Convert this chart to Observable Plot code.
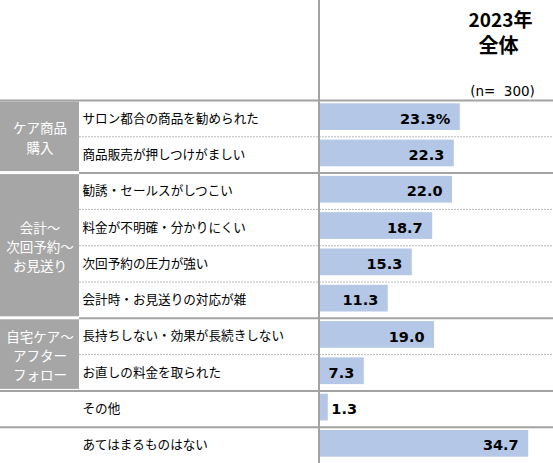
<!DOCTYPE html>
<html>
<head>
<meta charset="utf-8">
<script src="https://cdn.jsdelivr.net/npm/d3@7"></script>
<script src="https://cdn.jsdelivr.net/npm/@observablehq/plot@0.6"></script>
<style>
  html, body { margin: 0; padding: 0; background: #fff; }
  #chart svg { display: block; }
</style>
</head>
<body>
<div id="chart"></div>
<script>
// ---- data ----
const rowLabels = [
  "サロン都合の商品を勧められた",
  "商品販売が押しつけがましい",
  "勧誘・セールスがしつこい",
  "料金が不明確・分かりにくい",
  "次回予約の圧力が強い",
  "会計時・お見送りの対応が雑",
  "長持ちしない・効果が長続きしない",
  "お直しの料金を取られた",
  "その他",
  "あてはまるものはない"
];
const values = [23.3, 22.3, 22.0, 18.7, 15.3, 11.3, 19.0, 7.3, 1.3, 34.7];
const groupNames = ["ケア商品\n購入", "会計～\n次回予約～\nお見送り", "自宅ケア～\nアフター\nフォロー"];
const groupStarts = [0, 2, 6];
const groupEnds = [2, 6, 8];
const headerLines = ["2023年", "全体", "(n=\u00a0 300)"];
const solidBoundaries = [2, 6, 8, 9];
const dashedBoundaries = [1, 3, 4, 5, 7];

// ---- layout ----
const W = 553, H = 463, TOP = 100;
const ORIGIN = 320, PXU = 6;          // pixel of value 0, pixels per unit
const px = p => (p - ORIGIN) / PXU;   // pixel -> x value
const nRows = rowLabels.length;
const rowH = (H - TOP) / nRows;
const GRAY_W = 79;
const lineColor = "#a3a3a3";

const rows = rowLabels.map((label, i) => ({label, value: values[i], i}));
const groups = groupNames.map((name, k) => ({name, y1: groupStarts[k], y2: groupEnds[k]}));
const fmt = d => d.i === 0 ? d.value.toFixed(1) + "%" : d.value.toFixed(1);

const jp = "'Noto Sans CJK JP', sans-serif";
const num = "'DejaVu Sans', sans-serif";

const chart = Plot.plot({
  width: W, height: H,
  marginTop: TOP, marginBottom: 0, marginLeft: 0, marginRight: 0,
  x: {domain: [px(0), px(W)], axis: null},
  y: {domain: [0, nRows], reverse: true, axis: null},
  style: {fontFamily: jp, background: "#fff", overflow: "visible"},
  marks: [
    // gray group cells
    Plot.rect(groups, {x1: px(0), x2: px(GRAY_W), y1: "y1", y2: "y2", fill: "#a6a6a6", insetTop: 1.5, insetBottom: 1.5}),
    Plot.text(groups, {x: px(GRAY_W / 2), y: d => (d.y1 + d.y2) / 2, text: "name", fill: "#fff",
      fontSize: 13.5, lineHeight: 1.42, textAnchor: "middle", fontFamily: jp}),
    // grid lines
    Plot.ruleY([0], {stroke: lineColor, strokeWidth: 2}),
    Plot.ruleY(solidBoundaries, {x1: d => d <= 6 ? px(GRAY_W) : px(0), x2: px(W), stroke: lineColor, strokeWidth: 2}),
    Plot.ruleY(dashedBoundaries, {x1: px(GRAY_W), x2: px(W), stroke: "#b8b8b8", strokeWidth: 1, strokeDasharray: "2,1"}),
    // bars
    Plot.rect(rows, {x1: 0, x2: "value", y1: "i", y2: d => d.i + 1, fill: "#b4c7e7", insetTop: 3.3, insetBottom: 6.3}),
    // vertical divider
    Plot.ruleX([px(318.5)], {y1: -TOP / rowH, y2: nRows, stroke: lineColor, strokeWidth: 2}),
    // row labels
    Plot.text(rows, {x: px(82), y: d => d.i + 0.5, text: "label", textAnchor: "start", fontSize: 12.6, fill: "#000", fontFamily: jp}),
    // value labels: inside the bar end, or just outside for short bars
    Plot.text(rows.filter(d => d.value >= 3), {x: "value", y: d => d.i + 0.5, dy: 0.5, dx: -10,
      text: fmt, textAnchor: "end", fill: "#000", fontWeight: "bold", fontSize: 14.5, fontFamily: num}),
    Plot.text(rows.filter(d => d.value < 3), {x: "value", y: d => d.i + 0.5, dy: 0.5, dx: 3,
      text: fmt, textAnchor: "start", fill: "#000", fontWeight: "bold", fontSize: 14.5, fontFamily: num}),
    // header
    Plot.text([headerLines[0]], {x: px(500), frameAnchor: "top", lineAnchor: "middle", dy: 20 - TOP, text: d => d, fontWeight: "bold", fontSize: 19, fill: "#000", fontFamily: jp}),
    Plot.text([headerLines[1]], {x: px(498), frameAnchor: "top", lineAnchor: "middle", dy: 46 - TOP, text: d => d, fontWeight: "bold", fontSize: 20, fill: "#000", fontFamily: jp}),
    Plot.text([headerLines[2]], {x: px(502), frameAnchor: "top", lineAnchor: "middle", dy: 91 - TOP, text: d => d, fontSize: 13.5, fill: "#000", fontFamily: num})
  ]
});

document.getElementById("chart").appendChild(chart);
</script>
</body>
</html>
